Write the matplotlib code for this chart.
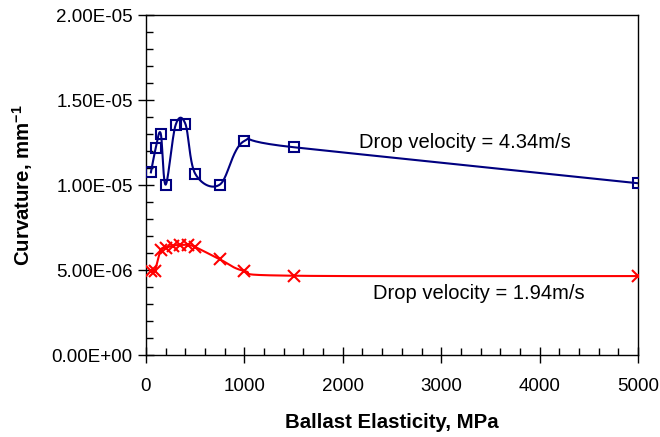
import numpy as np
import matplotlib
matplotlib.use("Agg")
import matplotlib.pyplot as plt
from matplotlib.ticker import MultipleLocator, FuncFormatter

plt.rcParams["font.family"] = ["Liberation Sans", "DejaVu Sans"]
plt.rcParams["mathtext.fontset"] = "custom"
plt.rcParams["mathtext.rm"] = "Liberation Sans"
plt.rcParams["mathtext.bf"] = "Liberation Sans:bold"

# Ballast elasticity (MPa) and curvature (1/mm) for two drop velocities
e_fast = [50, 100, 150, 200, 300, 400, 500, 750, 1000, 1500, 5000]
k_fast = [1.076e-5, 1.221e-5, 1.304e-5, 1.004e-5, 1.353e-5, 1.362e-5,
          1.068e-5, 1.004e-5, 1.261e-5, 1.224e-5, 1.012e-5]

e_slow = [50, 90, 150, 200, 270, 350, 430, 500, 750, 1000, 1500, 5000]
k_slow = [4.95e-6, 4.98e-6, 6.19e-6, 6.31e-6, 6.45e-6, 6.49e-6, 6.49e-6,
          6.37e-6, 5.65e-6, 4.96e-6, 4.68e-6, 4.66e-6]

label_fast = "Drop velocity = 4.34m/s"
label_slow = "Drop velocity = 1.94m/s"

XMAX, YMAX = 5000, 2.0e-5


def smooth(x, y, n=40):
    """Catmull-Rom style curve through the points, built in normalised axis space."""
    p = np.column_stack([np.asarray(x, float) / XMAX, np.asarray(y, float) / YMAX])
    ext = np.vstack([p[0], p, p[-1]])
    out = []
    t = np.linspace(0, 1, n)[:, None]
    for i in range(1, len(ext) - 2):
        p0, p1, p2, p3 = ext[i - 1], ext[i], ext[i + 1], ext[i + 2]
        c1 = p1 + (p2 - p0) / 6.0
        c2 = p2 - (p3 - p1) / 6.0
        seg = ((1 - t) ** 3) * p1 + 3 * ((1 - t) ** 2) * t * c1 + 3 * (1 - t) * t ** 2 * c2 + t ** 3 * p2
        out.append(seg if i == 1 else seg[1:])
    c = np.vstack(out)
    return c[:, 0] * XMAX, c[:, 1] * YMAX


fig = plt.figure(figsize=(6.6, 4.37), dpi=100)
ax = fig.add_axes([0.2212, 0.187, 0.7455, 0.778])

navy = "#000080"
red = "#FF0000"

sx, sy = smooth(e_fast, k_fast)
ax.plot(sx, sy, color=navy, lw=1.5, zorder=2)
ax.plot(e_fast, k_fast, ls="none", marker="s", ms=7, mfc="none", mec=navy, mew=1.5, zorder=3)

sx, sy = smooth(e_slow, k_slow)
ax.plot(sx, sy, color=red, lw=1.5, zorder=2)
ax.plot(e_slow, k_slow, ls="none", marker="x", ms=8, mec=red, mew=1.5, zorder=3)

ax.set_xlim(0, XMAX)
ax.set_ylim(0, YMAX)
ax.xaxis.set_major_locator(MultipleLocator(1000))
ax.xaxis.set_minor_locator(MultipleLocator(200))
ax.yaxis.set_major_locator(MultipleLocator(5e-6))
ax.yaxis.set_minor_locator(MultipleLocator(1e-6))
ax.yaxis.set_major_formatter(FuncFormatter(lambda v, pos: f"{v:.2E}"))

ax.tick_params(which="major", direction="inout", length=11, width=1, labelsize=13.5, pad=4)
ax.tick_params(which="minor", direction="in", length=5, width=1)
ax.tick_params(axis="x", which="major", pad=11)
for s in ax.spines.values():
    s.set_linewidth(1)

ax.set_xlabel("Ballast Elasticity, MPa", fontsize=14.7, fontweight="bold", labelpad=13)
ax.set_ylabel(r"Curvature, mm$^{\mathbf{-1}}$", fontsize=14.7, fontweight="bold", labelpad=12)

ax.text(3240, 1.252e-5, label_fast, fontsize=14.5, ha="center", va="center")
ax.text(3385, 3.63e-6, label_slow, fontsize=14.5, ha="center", va="center")

fig.savefig("out.png", dpi=100)
